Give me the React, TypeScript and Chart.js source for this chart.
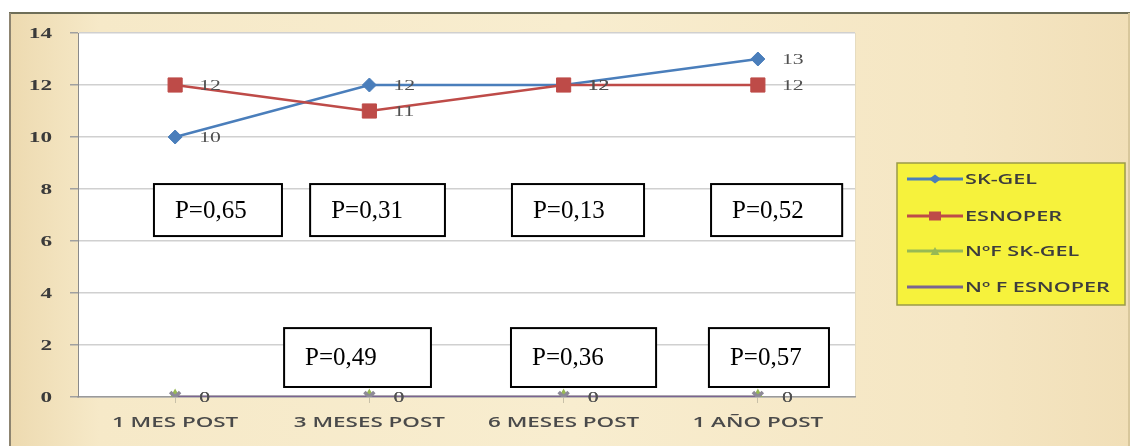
import React, { useEffect, useRef } from "react";
import { Chart, registerables } from "chart.js";

Chart.register(...registerables);

// ---- data ----
const categories = ["1 MES POST", "3 MESES POST", "6 MESES POST", "1 AÑO POST"];
const seriesNames = ["SK-GEL", "ESNOPER", "NºF SK-GEL", "Nº F ESNOPER"];
const skGel = [10, 12, 12, 13];
const esnoper = [12, 11, 12, 12];
const nfSkGel = [0, 0, 0, 0];
const nfEsnoper = [0, 0, 0, 0];
const yMin = 0;
const yMax = 14;
const yStep = 2;
const pValuesUpper = ["P=0,65", "P=0,31", "P=0,13", "P=0,52"];
const pValuesLower = ["P=0,49", "P=0,36", "P=0,57"];

// ---- annotation placement (category units / value units) ----
const upperBoxX = [
  [-0.109, 0.55],
  [0.695, 1.389],
  [1.734, 2.414],
  [2.759, 3.434],
];
const upperBoxY = [8.19, 6.19];
const lowerBoxX = [
  [0.561, 1.317],
  [1.729, 2.476],
  [2.748, 3.366],
];
const lowerBoxY = [2.65, 0.385];

const colors = ["#4a7ebb", "#be4b48", "#98b954", "#7a6490"];

function stretchedText(
  ctx: CanvasRenderingContext2D,
  text: string,
  x: number,
  y: number,
  align: CanvasTextAlign,
  sx: number
) {
  ctx.save();
  ctx.translate(x, y);
  ctx.scale(sx, 1);
  ctx.textAlign = align;
  ctx.textBaseline = "middle";
  ctx.fillText(text, 0, 0);
  ctx.restore();
}

function marker(ctx: CanvasRenderingContext2D, style: string, x: number, y: number, color: string) {
  ctx.save();
  ctx.fillStyle = color;
  ctx.strokeStyle = color;
  ctx.beginPath();
  if (style === "rectRot") {
    ctx.moveTo(x - 6, y);
    ctx.lineTo(x, y - 4.5);
    ctx.lineTo(x + 6, y);
    ctx.lineTo(x, y + 4.5);
    ctx.closePath();
    ctx.fill();
  } else if (style === "rect") {
    ctx.rect(x - 6, y - 4.5, 12, 9);
    ctx.fill();
  } else if (style === "triangle") {
    ctx.moveTo(x - 4.5, y + 4);
    ctx.lineTo(x, y - 4);
    ctx.lineTo(x + 4.5, y + 4);
    ctx.closePath();
    ctx.fill();
  }
  ctx.restore();
}

const decorPlugin = {
  id: "decor",
  beforeDraw(chart: any) {
    const ctx: CanvasRenderingContext2D = chart.ctx;
    const { width, height } = chart;
    const a = chart.chartArea;
    ctx.save();
    ctx.fillStyle = "#ffffff";
    ctx.fillRect(0, 0, width, height);
    // parchment frame
    const g = ctx.createLinearGradient(10, 0, 1129, 0);
    g.addColorStop(0, "#eddab0");
    g.addColorStop(0.08, "#f6e9c8");
    g.addColorStop(0.5, "#f8edcf");
    g.addColorStop(0.85, "#f5e6c3");
    g.addColorStop(1, "#f1dfb8");
    ctx.fillStyle = g;
    ctx.fillRect(10, 13, 1119, 433);
    ctx.strokeStyle = "#6e6e58";
    ctx.lineWidth = 2;
    ctx.beginPath();
    ctx.moveTo(9, 13);
    ctx.lineTo(1130, 13);
    ctx.stroke();
    ctx.strokeStyle = "#8d8470";
    ctx.beginPath();
    ctx.moveTo(10, 13);
    ctx.lineTo(10, 446);
    ctx.stroke();
    ctx.strokeStyle = "#d8c79c";
    ctx.beginPath();
    ctx.moveTo(1129, 13);
    ctx.lineTo(1129, 446);
    ctx.stroke();
    // plot area
    ctx.fillStyle = "#ffffff";
    ctx.fillRect(a.left, a.top, a.right - a.left, a.bottom - a.top);
    ctx.strokeStyle = "#e6dcc0";
    ctx.lineWidth = 1;
    ctx.beginPath();
    ctx.moveTo(a.right + 0.5, a.top);
    ctx.lineTo(a.right + 0.5, a.bottom);
    ctx.stroke();
    ctx.restore();
  },
  afterDatasetsDraw(chart: any) {
    const ctx: CanvasRenderingContext2D = chart.ctx;
    ctx.save();
    ctx.fillStyle = "#505050";
    ctx.font = "14px 'Liberation Serif'";
    chart.data.datasets.forEach((ds: any, d: number) => {
      const meta = chart.getDatasetMeta(d);
      meta.data.forEach((pt: any, i: number) => {
        stretchedText(ctx, String(ds.data[i]), pt.x + 24, pt.y + 1, "left", 1.55);
      });
    });
    ctx.restore();
  },
  afterDraw(chart: any) {
    const ctx: CanvasRenderingContext2D = chart.ctx;
    const xs = chart.scales.x;
    const ys = chart.scales.y;
    ctx.save();
    // y tick labels
    ctx.fillStyle = "#3a3a3a";
    ctx.font = "bold 15px 'Liberation Serif'";
    ys.ticks.forEach((t: any) => {
      stretchedText(ctx, String(t.value), 52, ys.getPixelForValue(t.value) + 1, "right", 1.55);
    });
    // x tick labels
    ctx.fillStyle = "#4a4a4a";
    ctx.font = "600 14px 'Open Sans'";
    chart.data.labels.forEach((lab: string, i: number) => {
      stretchedText(ctx, lab, xs.getPixelForValue(i), 423, "center", 1.6);
    });
    // legend
    const lx = 897, ly = 163, lw = 228, lh = 142;
    ctx.fillStyle = "#f6f23c";
    ctx.fillRect(lx, ly, lw, lh);
    ctx.strokeStyle = "#9a9a4a";
    ctx.lineWidth = 1.5;
    ctx.strokeRect(lx, ly, lw, lh);
    const rowsY = [179, 216, 251, 287];
    chart.data.datasets.forEach((ds: any, d: number) => {
      const y = rowsY[d];
      ctx.strokeStyle = ds.borderColor;
      ctx.lineWidth = 3;
      ctx.beginPath();
      ctx.moveTo(907, y);
      ctx.lineTo(963, y);
      ctx.stroke();
      marker(ctx, ds.pointStyle, 935, y, ds.borderColor);
      ctx.fillStyle = "#3d3d3d";
      ctx.font = "600 13.5px 'Open Sans'";
      stretchedText(ctx, ds.label, 965, y + 1, "left", 1.6);
    });
    // p-value boxes
    const drawBox = (text: string, bx: number[], by: number[]) => {
      const x1 = xs.getPixelForValue(bx[0]);
      const x2 = xs.getPixelForValue(bx[1]);
      const y1 = ys.getPixelForValue(by[0]);
      const y2 = ys.getPixelForValue(by[1]);
      ctx.fillStyle = "#ffffff";
      ctx.fillRect(x1, y1, x2 - x1, y2 - y1);
      ctx.strokeStyle = "#000000";
      ctx.lineWidth = 2;
      ctx.strokeRect(x1, y1, x2 - x1, y2 - y1);
      ctx.fillStyle = "#000000";
      ctx.font = "25px 'Liberation Serif'";
      ctx.textAlign = "left";
      ctx.textBaseline = "middle";
      ctx.fillText(text, x1 + 21, (y1 + y2) / 2 + 1);
    };
    pValuesUpper.forEach((t, i) => drawBox(t, upperBoxX[i], upperBoxY));
    pValuesLower.forEach((t, i) => drawBox(t, lowerBoxX[i], lowerBoxY));
    ctx.restore();
  },
};

export default function App() {
  const ref = useRef<HTMLCanvasElement>(null);
  useEffect(() => {
    const chart = new Chart(ref.current as HTMLCanvasElement, {
      type: "line",
      data: {
        labels: categories,
        datasets: [
          {
            label: seriesNames[0],
            data: skGel,
            borderColor: colors[0],
            backgroundColor: colors[0],
            pointStyle: "rectRot",
            pointRadius: 7,
            pointBorderWidth: 1,
            borderWidth: 2.5,
            order: 1,
          },
          {
            label: seriesNames[1],
            data: esnoper,
            borderColor: colors[1],
            backgroundColor: colors[1],
            pointStyle: "rect",
            pointRadius: 10,
            pointBorderWidth: 1,
            borderWidth: 2.5,
            order: 0,
          },
          {
            label: seriesNames[2],
            data: nfSkGel,
            borderColor: colors[2],
            backgroundColor: colors[2],
            pointStyle: "triangle",
            pointRadius: 6,
            borderWidth: 2.5,
            order: 3,
          },
          {
            label: seriesNames[3],
            data: nfEsnoper,
            borderColor: colors[3],
            backgroundColor: colors[3],
            pointStyle: "crossRot",
            pointRadius: 7,
            pointBorderColor: "#8e8a98",
            pointBorderWidth: 3.5,
            borderWidth: 3,
            order: 2,
          },
        ],
      },
      options: {
        animation: false,
        responsive: false,
        devicePixelRatio: 1,
        events: [],
        layout: { autoPadding: false, padding: { left: 68, top: 33, right: 276, bottom: 0 } },
        elements: { line: { tension: 0 } },
        plugins: { legend: { display: false }, tooltip: { enabled: false } },
        scales: {
          x: {
            offset: true,
            ticks: { display: false },
            grid: { display: true, drawOnChartArea: false, tickLength: 6, color: "#c8c0a8" },
            border: { display: true, color: "#9a9a9a", width: 1.5 },
            afterFit(scale: any) {
              scale.height = 49;
            },
          },
          y: {
            min: yMin,
            max: yMax,
            ticks: { stepSize: yStep, display: false },
            grid: { color: "#d0d0d0", lineWidth: 1.5, tickLength: 8, tickColor: "#a0a0a0" },
            border: { display: true, color: "#8a8a8a", width: 1 },
            afterFit(scale: any) {
              scale.width = 10;
            },
          },
        },
      },
      plugins: [decorPlugin],
    } as any);
    return () => chart.destroy();
  }, []);
  return (
    <div style={{ position: "absolute", left: 0, top: 0, width: 1131, height: 446 }}>
      <canvas ref={ref} width={1131} height={446} style={{ display: "block", width: 1131, height: 446 }} />
    </div>
  );
}
